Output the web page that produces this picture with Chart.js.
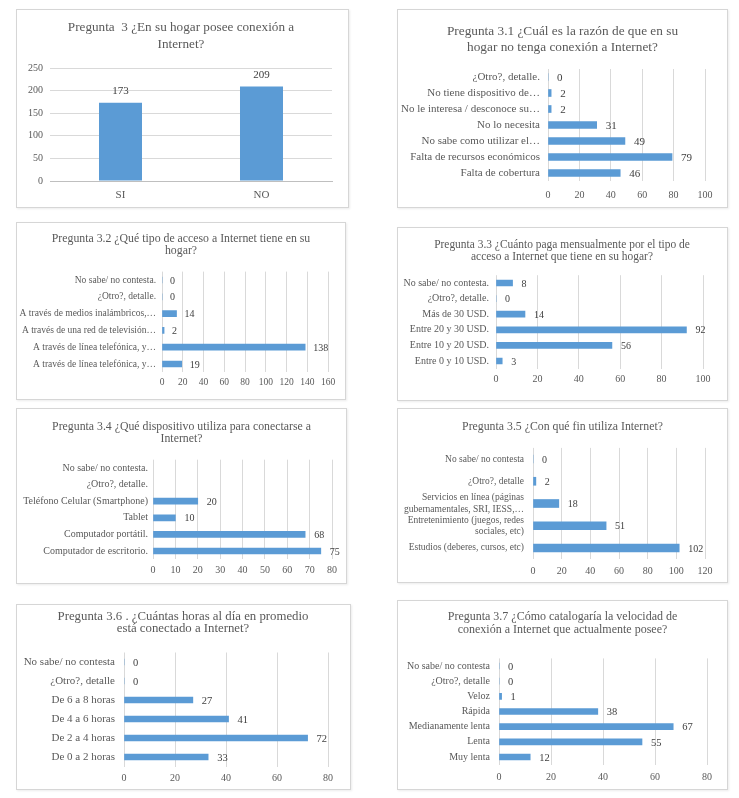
<!DOCTYPE html>
<html><head><meta charset="utf-8">
<script src="https://cdn.jsdelivr.net/npm/chart.js@4/dist/chart.umd.min.js"></script>
<style>
html,body{margin:0;padding:0;background:#fff;width:739px;height:798px;overflow:hidden;}
.panel{position:absolute;box-sizing:border-box;border:1px solid #d6d6d6;background:#fff;box-shadow:1px 1px 2px rgba(0,0,0,0.08);}
.wrap{position:absolute;left:-1px;top:-1px;}
</style></head><body>
<script>
// ---------- DATA ----------
const p1Title = ['Pregunta  3 ¿En su hogar posee conexión a', 'Internet?'];
const p1Categories = ['SI', 'NO'];
const p1Values = [173, 209];

const p2Title = ['Pregunta 3.1 ¿Cuál es la razón de que en su', 'hogar no tenga conexión a Internet?'];
const p2Categories = ['¿Otro?, detalle.', 'No tiene dispositivo de…', 'No le interesa / desconoce su…', 'No lo necesita', 'No sabe como utilizar el…', 'Falta de recursos económicos', 'Falta de cobertura'];
const p2Values = [0, 2, 2, 31, 49, 79, 46];

const p3Title = ['Pregunta 3.2 ¿Qué tipo de acceso a Internet tiene en su', 'hogar?'];
const p3Categories = ['No sabe/ no contesta.', '¿Otro?, detalle.', 'A través de medios inalámbricos,…', 'A través de una red de televisión…', 'A través de línea telefónica, y…', 'A través de línea telefónica, y…'];
const p3Values = [0, 0, 14, 2, 138, 19];

const p4Title = ['Pregunta 3.3 ¿Cuánto paga mensualmente por el tipo de', 'acceso a Internet que tiene en su hogar?'];
const p4Categories = ['No sabe/ no contesta.', '¿Otro?, detalle.', 'Más de 30 USD.', 'Entre 20 y 30 USD.', 'Entre 10 y 20 USD.', 'Entre 0 y 10 USD.'];
const p4Values = [8, 0, 14, 92, 56, 3];

const p5Title = ['Pregunta 3.4 ¿Qué dispositivo utiliza para conectarse a', 'Internet?'];
const p5Categories = ['No sabe/ no contesta.', '¿Otro?, detalle.', 'Teléfono Celular (Smartphone)', 'Tablet', 'Computador portátil.', 'Computador de escritorio.'];
const p5Values = [null, null, 20, 10, 68, 75];

const p6Title = ['Pregunta 3.5 ¿Con qué fin utiliza Internet?'];
const p6Categories = ['No sabe/ no contesta', '¿Otro?, detalle', ['Servicios en línea (páginas', 'gubernamentales, SRI, IESS,…'], ['Entretenimiento (juegos, redes', 'sociales, etc)'], 'Estudios (deberes, cursos, etc)'];
const p6Values = [0, 2, 18, 51, 102];

const p7Title = ['Pregunta 3.6 . ¿Cuántas horas al día en promedio', 'está conectado a Internet?'];
const p7Categories = ['No sabe/ no contesta', '¿Otro?, detalle', 'De 6 a 8 horas', 'De 4 a 6 horas', 'De 2 a 4 horas', 'De 0 a 2 horas'];
const p7Values = [0, 0, 27, 41, 72, 33];

const p8Title = ['Pregunta 3.7 ¿Cómo catalogaría la velocidad de', 'conexión a Internet que actualmente posee?'];
const p8Categories = ['No sabe/ no contesta', '¿Otro?, detalle', 'Veloz', 'Rápida', 'Medianamente lenta', 'Lenta', 'Muy lenta'];
const p8Values = [0, 0, 1, 38, 67, 55, 12];

// value-axis ticks: [max, step]
const p1Axis = [250, 50];
const p2Axis = [100, 20];
const p3Axis = [160, 20];
const p4Axis = [100, 20];
const p5Axis = [80, 10];
const p6Axis = [120, 20];
const p7Axis = [80, 20];
const p8Axis = [80, 20];

// ---------- STYLE / LAYOUT ----------
const FONT = "'Liberation Serif','Times New Roman',serif";
const BLUE = '#5B9BD5';
const TXT = '#595959';
const GRID = '#d9d9d9';

const valueLabels = {
  id: 'valueLabels',
  afterDatasetsDraw(chart, args, opts) {
    const ctx = chart.ctx;
    const meta = chart.getDatasetMeta(0);
    const data = chart.data.datasets[0].data;
    const horiz = chart.options.indexAxis === 'y';
    ctx.save();
    ctx.fillStyle = '#404040';
    ctx.font = opts.size + 'px ' + FONT;
    meta.data.forEach((el, i) => {
      const v = data[i];
      if (v === null || v === undefined) return;
      if (horiz) {
        ctx.textAlign = 'left'; ctx.textBaseline = 'middle';
        ctx.fillText(String(v), el.x + opts.offset, el.y + 1);
      } else {
        ctx.textAlign = 'center'; ctx.textBaseline = 'bottom';
        ctx.fillText(String(v), el.x, el.y - opts.offset);
      }
    });
    ctx.restore();
  }
};

function makePanel(L, title, cats, vals, axis) {
  const panel = document.createElement('div');
  panel.className = 'panel';
  Object.assign(panel.style, {left: L.box.x + 'px', top: L.box.y + 'px', width: L.box.w + 'px', height: L.box.h + 'px'});
  const wrap = document.createElement('div');
  wrap.className = 'wrap';
  Object.assign(wrap.style, {width: L.box.w + 'px', height: L.box.h + 'px'});
  const cv = document.createElement('canvas');
  wrap.appendChild(cv); panel.appendChild(wrap); document.body.appendChild(panel);

  const R = L.box.x + L.box.w - L.plot.right;
  // title spans [0, W - padR]; choose padR so that its centre is titleC
  const padR = Math.min(R, Math.max(0, L.box.w - 2 * (L.titleC - L.box.x)));
  const dummyW = R - padR;
  const yWidth = L.plot.left - L.box.x;
  const lh = L.titleSize * L.titleLH;
  const tTop = L.titleY - L.box.y - lh / 2;
  const tBottom = L.plot.top - L.box.y - tTop - title.length * lh;
  const xHeight = L.box.y + L.box.h - L.plot.bottom;
  const horiz = L.horizontal;

  const valueScale = {
    type: 'linear', min: 0, max: axis[0],
    ticks: {stepSize: axis[1], color: TXT, font: {family: FONT, size: L.tickSize}, padding: L.tickPad},
    grid: {color: GRID, drawTicks: false, lineWidth: 1},
    border: {display: false}
  };
  const catScale = {
    type: 'category',
    ticks: {autoSkip: false, color: TXT, font: {family: FONT, size: L.labelSize}, padding: L.labelPad, maxRotation: 0},
    grid: {display: false, drawTicks: false},
    border: {display: !horiz, color: '#bfbfbf'}
  };
  const spacer = {
    type: horiz ? 'category' : 'linear', position: 'right', display: true,
    ticks: {display: false}, grid: {display: false, drawTicks: false}, border: {display: false},
    afterFit: s => { s.width = dummyW; }
  };
  let scales;
  if (horiz) {
    scales = {
      x: Object.assign(valueScale, {afterFit: s => { s.height = xHeight; }}),
      y: Object.assign(catScale, {afterFit: s => { s.width = yWidth; }}),
      ySpacer: spacer
    };
  } else {
    scales = {
      x: Object.assign(catScale, {afterFit: s => { s.height = xHeight; }}),
      y: Object.assign(valueScale, {afterFit: s => { s.width = yWidth; }}),
      ySpacer: spacer
    };
  }
  const ds = {data: vals, backgroundColor: BLUE, borderWidth: 0};
  if (horiz) { ds.barThickness = L.bar; } else { ds.barPercentage = L.barPct; ds.categoryPercentage = 1; }

  new Chart(cv, {
    type: 'bar',
    data: {labels: cats, datasets: [ds]},
    options: {
      indexAxis: horiz ? 'y' : 'x',
      responsive: true, maintainAspectRatio: false, animation: false,
      layout: {padding: {left: 0, right: padR, top: 0, bottom: 0}},
      plugins: {
        legend: {display: false}, tooltip: {enabled: false},
        title: {display: true, text: title, color: TXT,
          font: {family: FONT, size: L.titleSize, weight: 'normal', lineHeight: L.titleLH},
          padding: {top: tTop, bottom: tBottom}},
        valueLabels: {size: L.valSize, offset: L.valOffset}
      },
      scales
    },
    plugins: [valueLabels]
  });
}

makePanel({box:{x:16,y:9,w:333,h:199}, plot:{left:50,right:332,top:68,bottom:181}, titleY:28, titleC:181, titleSize:13.2, titleLH:1.29,
  tickSize:10, tickPad:7, labelSize:11, labelPad:8, horizontal:false, barPct:0.305, valSize:11, valOffset:6}, p1Title, p1Categories, p1Values, p1Axis);
makePanel({box:{x:397,y:9,w:331,h:199}, plot:{left:548,right:705,top:69,bottom:181}, titleY:32, titleC:562.5, titleSize:13.3, titleLH:1.2,
  tickSize:10, tickPad:8, labelSize:11, labelPad:8, horizontal:true, bar:7, valSize:11, valOffset:9}, p2Title, p2Categories, p2Values, p2Axis);
makePanel({box:{x:16,y:222,w:330,h:178}, plot:{left:162,right:328,top:271.6,bottom:372.4}, titleY:239, titleC:184, titleSize:11.8, titleLH:1.02,
  tickSize:9.5, tickPad:4, labelSize:9.5, labelPad:6, horizontal:true, bar:6, valSize:10, valOffset:8}, p3Title, p3Categories, p3Values, p3Axis);
makePanel({box:{x:397,y:227,w:331,h:174}, plot:{left:496,right:703,top:275.2,bottom:368.8}, titleY:245, titleC:562, titleSize:11.45, titleLH:1.06,
  tickSize:10, tickPad:5, labelSize:10, labelPad:7, horizontal:true, bar:6, valSize:10, valOffset:9}, p4Title, p4Categories, p4Values, p4Axis);
makePanel({box:{x:16,y:408,w:331,h:176}, plot:{left:153,right:332,top:459.7,bottom:559.3}, titleY:427, titleC:182.5, titleSize:11.8, titleLH:1.02,
  tickSize:10, tickPad:5, labelSize:10, labelPad:5, horizontal:true, bar:6, valSize:10, valOffset:9}, p5Title, p5Categories, p5Values, p5Axis);
makePanel({box:{x:397,y:408,w:331,h:175}, plot:{left:533,right:705,top:447.9,bottom:559.1}, titleY:427, titleC:562.5, titleSize:11.8, titleLH:1.1,
  tickSize:10, tickPad:6, labelSize:9.5, labelPad:9, horizontal:true, bar:8, valSize:10, valOffset:9}, p6Title, p6Categories, p6Values, p6Axis);
makePanel({box:{x:16,y:604,w:335,h:186}, plot:{left:124,right:328,top:652.5,bottom:766.5}, titleY:616.5, titleC:183, titleSize:12.8, titleLH:0.93,
  tickSize:10, tickPad:6, labelSize:11, labelPad:9, horizontal:true, bar:6, valSize:10.5, valOffset:9}, p7Title, p7Categories, p7Values, p7Axis);
makePanel({box:{x:397,y:600,w:331,h:190}, plot:{left:499,right:707,top:658.4,bottom:764.6}, titleY:617, titleC:563, titleSize:12, titleLH:1.1,
  tickSize:10, tickPad:7, labelSize:10, labelPad:9, horizontal:true, bar:6, valSize:10.5, valOffset:9}, p8Title, p8Categories, p8Values, p8Axis);
</script>
</body></html>
